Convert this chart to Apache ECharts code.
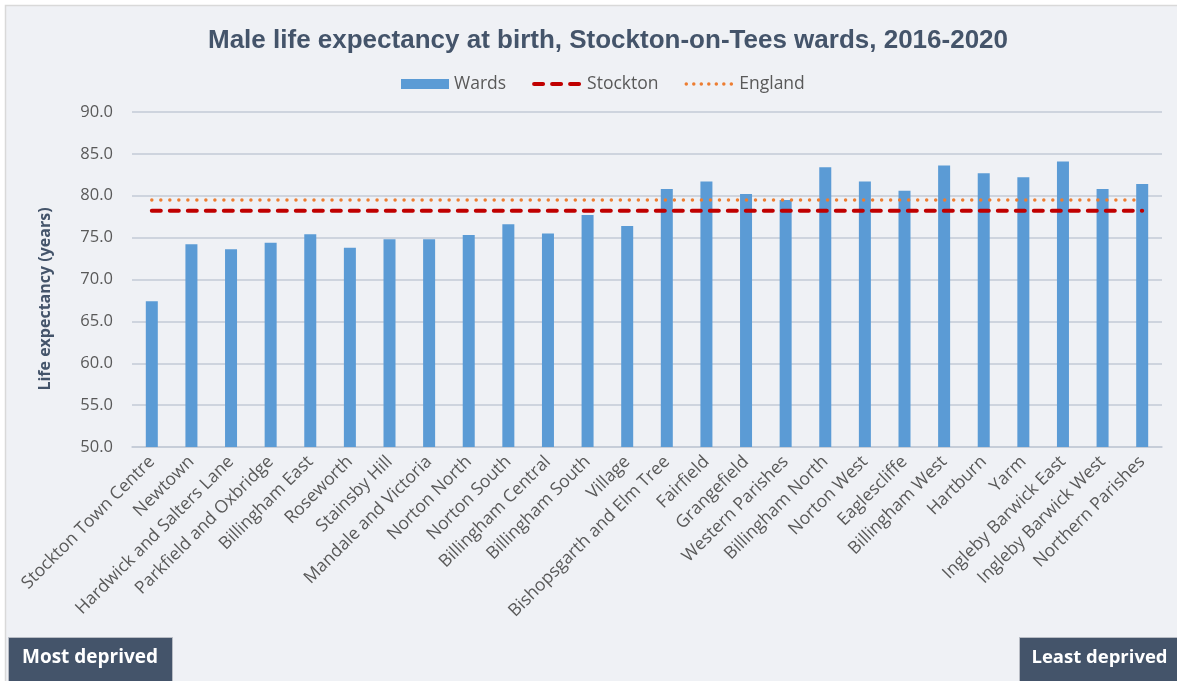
<!DOCTYPE html>
<html>
<head>
<meta charset="utf-8">
<script src="https://cdn.jsdelivr.net/npm/echarts@6/dist/echarts.min.js"></script>
<style>
html,body{margin:0;padding:0;background:#ffffff;}
#chart{width:1177px;height:681px;}
</style>
</head>
<body>
<div id="chart"></div>
<script>
var categories = ["Stockton Town Centre","Newtown","Hardwick and Salters Lane","Parkfield and Oxbridge","Billingham East","Roseworth","Stainsby Hill","Mandale and Victoria","Norton North","Norton South","Billingham Central","Billingham South","Village","Bishopsgarth and Elm Tree","Fairfield","Grangefield","Western Parishes","Billingham North","Norton West","Eaglescliffe","Billingham West","Hartburn","Yarm","Ingleby Barwick East","Ingleby Barwick West","Northern Parishes"];
var wards = [67.4,74.2,73.6,74.4,75.4,73.8,74.8,74.8,75.3,76.6,75.5,77.7,76.4,80.8,81.7,80.2,79.5,83.4,81.7,80.6,83.6,82.7,82.2,84.1,80.8,81.4];
var stocktonValue = 78.2;
var englandValue = 79.5;
var yTicks = ["50.0","55.0","60.0","65.0","70.0","75.0","80.0","85.0","90.0"];

var stockton = categories.map(function(){return stocktonValue;});
var england = categories.map(function(){return englandValue;});

var chart = echarts.init(document.getElementById('chart'));
var labelFont = "'Open Sans', 'Noto Sans', sans-serif";
chart.setOption({
  backgroundColor: '#ffffff',
  animation: false,
  graphic: [
    {type:'rect', z:-10, shape:{x:5.5,y:5.5,width:1180,height:690}, style:{fill:'#eff1f5', stroke:'#d9d9d9', lineWidth:1.5}},
    {type:'text', z:5, x:45, y:299, rotation:Math.PI/2,
      style:{x:0,y:0,text:'Life expectancy (years)', fill:'#44546a', font:"bold 16px 'Open Sans', sans-serif", textAlign:'center', textVerticalAlign:'middle'}},
    {type:'rect', z:10, shape:{x:8.5,y:637.5,width:164,height:50}, style:{fill:'#44546a', stroke:'#b8bcc4', lineWidth:1}},
    {type:'text', z:11, style:{x:90,y:658,text:'Most deprived', fill:'#ffffff', font:"bold 19px 'Open Sans', sans-serif", textAlign:'center', textVerticalAlign:'middle'}},
    {type:'rect', z:10, shape:{x:1019.5,y:637.5,width:170,height:50}, style:{fill:'#44546a', stroke:'#b8bcc4', lineWidth:1}},
    {type:'text', z:11, style:{x:1099.5,y:658,text:'Least deprived', fill:'#ffffff', font:"bold 18.5px 'Open Sans', sans-serif", textAlign:'center', textVerticalAlign:'middle'}}
  ],
  title: {
    text: 'Male life expectancy at birth, Stockton-on-Tees wards, 2016-2020',
    left: 203,
    top: 23,
    textStyle: {fontFamily: "'Liberation Sans', Arial, sans-serif", fontWeight: 'bold', fontSize: 26, color: '#44546a'}
  },
  legend: {
    top: 70,
    left: 396,
    itemWidth: 48,
    itemHeight: 10,
    itemGap: 26,
    textStyle: {fontFamily: labelFont, fontSize: 17.5, color: '#595959'},
    data: [
      {name:'Wards', icon:'rect'},
      {name:'Stockton', itemStyle:{opacity:0}, lineStyle:{width:4, type:[9,9], cap:'round', color:'#c00000'}},
      {name:'England', itemStyle:{opacity:0}, lineStyle:{width:3.5, type:[0.01,7.5], cap:'round', color:'#ed7d31'}}
    ]
  },
  grid: {left: 132, right: 15, top: 112, bottom: 234, containLabel: false},
  xAxis: {
    type: 'category',
    data: categories,
    axisLine: {show: true, lineStyle: {color: '#c3cad6', width: 1.5}},
    axisTick: {show: false},
    axisLabel: {rotate: 45, interval: 0, margin: 12, fontFamily: labelFont, fontSize: 17.5, color: '#595959'}
  },
  yAxis: {
    type: 'value',
    min: 50,
    max: 90,
    interval: 5,
    axisLine: {show: false},
    axisTick: {show: false},
    axisLabel: {margin: 19, fontFamily: labelFont, fontSize: 16.5, color: '#595959',
      formatter: function(v){ var i = Math.round((v-50)/5); return yTicks[i] || v.toFixed(1); }},
    splitLine: {lineStyle: {color: '#c3cad6', width: 1.5}}
  },
  series: [
    {name:'Wards', type:'bar', data: wards, barWidth: 12, itemStyle:{color:'#5b9bd5'}, z:2},
    {name:'Stockton', type:'line', data: stockton, symbol:'none', z:3,
      itemStyle:{color:'#c00000'},
      lineStyle:{color:'#c00000', width:4, type:[9,9], cap:'round'}},
    {name:'England', type:'line', data: england, symbol:'none', z:3,
      itemStyle:{color:'#ed7d31'},
      lineStyle:{color:'#ed7d31', width:3.5, type:[0.01,9], cap:'round'}}
  ]
});
</script>
</body>
</html>
